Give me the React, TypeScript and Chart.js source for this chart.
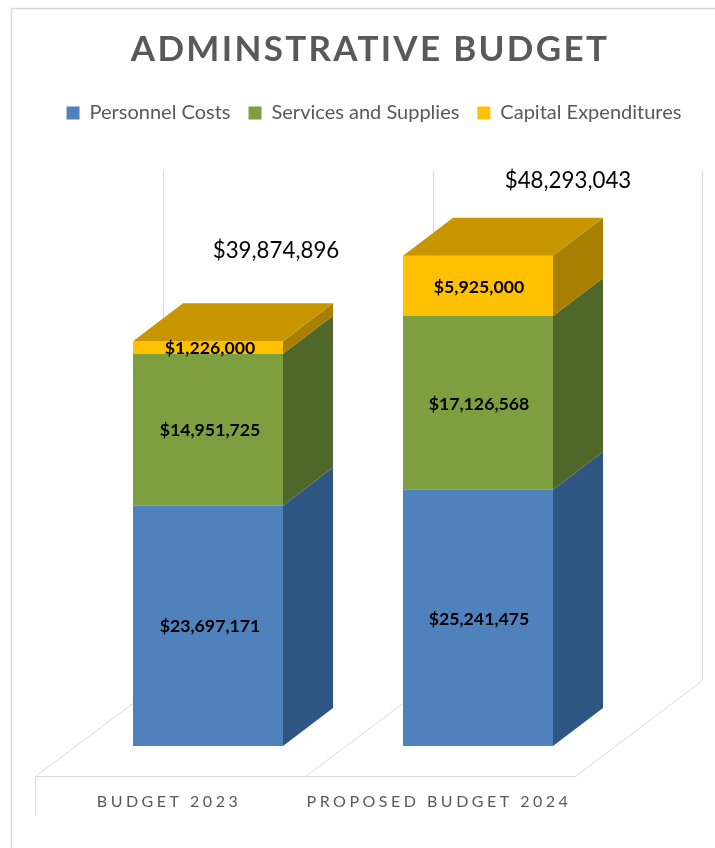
import React, { useEffect, useRef } from "react";
import { Chart, registerables } from "chart.js";

Chart.register(...registerables);

const categories = ["BUDGET 2023", "PROPOSED BUDGET 2024"];
const personnelCosts = [23697171, 25241475];
const servicesAndSupplies = [14951725, 17126568];
const capitalExpenditures = [1226000, 5925000];

const FRONT = ["#4f81bd", "#7e9f3f", "#ffc000"];
const SIDE = ["#2f5583", "#4f6829", "#a87f00"];
const TOP = "#c79600";
const WALL = "#d9d9d9";
const DEPTH_X = 50;
const DEPTH_Y = 38;
const FONT = "Lato";
const AXIS_MAX = 60100000;
const TOTAL_OFFSETS = [
  { x: 68, y: -90 },
  { x: 90, y: -75 },
];

const money = (v: number) => "$" + v.toLocaleString("en-US");

const poly = (ctx: any, pts: number[][], fill: string) => {
  ctx.beginPath();
  pts.forEach((p, i) => (i ? ctx.lineTo(p[0], p[1]) : ctx.moveTo(p[0], p[1])));
  ctx.closePath();
  ctx.fillStyle = fill;
  ctx.fill();
};

const line = (ctx: any, x1: number, y1: number, x2: number, y2: number) => {
  ctx.beginPath();
  ctx.moveTo(x1 + 0.5, y1 + 0.5);
  ctx.lineTo(x2 + 0.5, y2 + 0.5);
  ctx.stroke();
};

const spaced = (obj: any, key: string, ctx: any, px: string) => {
  if (!obj || obj["__w" + key]) return;
  const orig = obj[key];
  obj[key] = function (...args: any[]) {
    ctx.letterSpacing = px;
    orig.apply(this, args);
    ctx.letterSpacing = "0px";
  };
  obj["__w" + key] = true;
};

const shifted = (obj: any, ctx: any, dx: number, dy: number) => {
  if (!obj || obj.__shifted) return;
  const orig = obj.draw;
  obj.draw = function (...args: any[]) {
    ctx.save();
    ctx.translate(dx, dy);
    orig.apply(this, args);
    ctx.restore();
  };
  obj.__shifted = true;
};

const plugin3d = {
  id: "bars3d",
  beforeDraw(chart: any) {
    spaced(chart.titleBlock, "draw", chart.ctx, "2.3px");
    spaced(chart.scales.x, "drawLabels", chart.ctx, "3.5px");
    shifted(chart.legend, chart.ctx, 4, -3);
  },
  beforeDatasetsDraw(chart: any) {
    const { ctx, scales } = chart;
    const base = scales.y.getPixelForValue(0);
    const step = scales.x.getPixelForValue(1) - scales.x.getPixelForValue(0);
    const left = scales.x.left;
    ctx.save();
    ctx.strokeStyle = WALL;
    // outer frame
    ctx.lineWidth = 1.5;
    line(ctx, 11, 8, 11, chart.height);
    line(ctx, 11, 8, chart.width, 8);
    ctx.lineWidth = 1;
    const frontY = base + 30;
    const backY = base - 66;
    for (let i = 0; i <= categories.length; i++) {
      const fx = left - 38 + i * step;
      const bx = left + 90 + i * step - (i === 2 ? 1 : 0);
      line(ctx, fx, frontY, bx, backY);
      line(ctx, bx, backY, bx, scales.y.top + 34);
    }
    line(ctx, left - 38, frontY, left - 38 + 2 * step, frontY);
    line(ctx, left - 38, frontY, left - 38, frontY + 39);
    ctx.restore();
  },
  afterDatasetsDraw(chart: any) {
    const { ctx, scales } = chart;
    ctx.save();
    categories.forEach((_, c) => {
      let topBar: any = null;
      chart.data.datasets.forEach((ds: any, d: number) => {
        const bar = chart.getDatasetMeta(d).data[c] as any;
        const hw = bar.width / 2;
        const xr = bar.x + hw;
        poly(
          ctx,
          [
            [xr, bar.y],
            [xr + DEPTH_X, bar.y - DEPTH_Y],
            [xr + DEPTH_X, bar.base - DEPTH_Y],
            [xr, bar.base],
          ],
          SIDE[d]
        );
        topBar = bar;
      });
      const hw = topBar.width / 2;
      poly(
        ctx,
        [
          [topBar.x - hw, topBar.y],
          [topBar.x - hw + DEPTH_X, topBar.y - DEPTH_Y],
          [topBar.x + hw + DEPTH_X, topBar.y - DEPTH_Y],
          [topBar.x + hw, topBar.y],
        ],
        TOP
      );
      // segment labels
      ctx.textAlign = "center";
      ctx.textBaseline = "middle";
      ctx.fillStyle = "#000000";
      ctx.font = `bold 17.7px ${FONT}`;
      chart.data.datasets.forEach((ds: any, d: number) => {
        const bar = chart.getDatasetMeta(d).data[c] as any;
        ctx.fillText(money(ds.data[c]), bar.x + (c === 0 ? 2 : 1), (bar.y + bar.base) / 2 + 1);
      });
      // total label
      const total =
        personnelCosts[c] + servicesAndSupplies[c] + capitalExpenditures[c];
      ctx.font = `22.3px ${FONT}`;
      ctx.fillStyle = "#000000";
      ctx.fillText(
        money(total),
        scales.x.getPixelForValue(c) + TOTAL_OFFSETS[c].x,
        scales.y.getPixelForValue(total) + TOTAL_OFFSETS[c].y
      );
    });
    ctx.restore();
  },
};

export default function App() {
  const ref = useRef<HTMLCanvasElement>(null);
  useEffect(() => {
    const chart = new Chart(ref.current as HTMLCanvasElement, {
      type: "bar",
      data: {
        labels: categories,
        datasets: [
          { label: "Personnel Costs", data: personnelCosts, backgroundColor: FRONT[0] },
          { label: "Services and Supplies", data: servicesAndSupplies, backgroundColor: FRONT[1] },
          { label: "Capital Expenditures", data: capitalExpenditures, backgroundColor: FRONT[2] },
        ],
      },
      options: {
        responsive: false,
        animation: false,
        maintainAspectRatio: false,
        layout: { padding: { left: 25, right: 0, top: 0, bottom: 0 } },
        datasets: { bar: { categoryPercentage: 150 / 270, barPercentage: 1 } },
        scales: {
          x: {
            stacked: true,
            grid: { display: false },
            border: { display: false },
            afterFit(s: any) {
              s.height = 102;
            },
            ticks: {
              color: "#595959",
              font: { family: FONT, size: 16 },
              padding: 38,
              labelOffset: -39,
              maxRotation: 0,
              autoSkip: false,
            },
          },
          y: {
            stacked: true,
            min: 0,
            max: AXIS_MAX,
            grid: { display: false },
            border: { display: false },
            ticks: { display: false },
            afterFit(s: any) {
              s.width = 48;
            },
          },
          y2: {
            position: "right",
            min: 0,
            max: AXIS_MAX,
            grid: { display: false },
            border: { display: false },
            ticks: { display: false },
            afterFit(s: any) {
              s.width = 102;
            },
          },
        },
        plugins: {
          tooltip: { enabled: false },
          title: {
            display: true,
            text: "ADMINSTRATIVE BUDGET",
            color: "#595959",
            font: { family: FONT, size: 35, weight: "bold" },
            padding: { top: 29, bottom: 17 },
          },
          legend: {
            display: true,
            position: "top",
            labels: {
              color: "#595959",
              font: { family: FONT, size: 20 },
              boxWidth: 13,
              boxHeight: 13,
              padding: 18,
            },
          },
        },
      },
      plugins: [plugin3d],
    } as any);
    return () => chart.destroy();
  }, []);
  return (
    <canvas
      ref={ref}
      width={715}
      height={848}
      style={{ position: "absolute", left: 0, top: 0, display: "block" }}
    />
  );
}
